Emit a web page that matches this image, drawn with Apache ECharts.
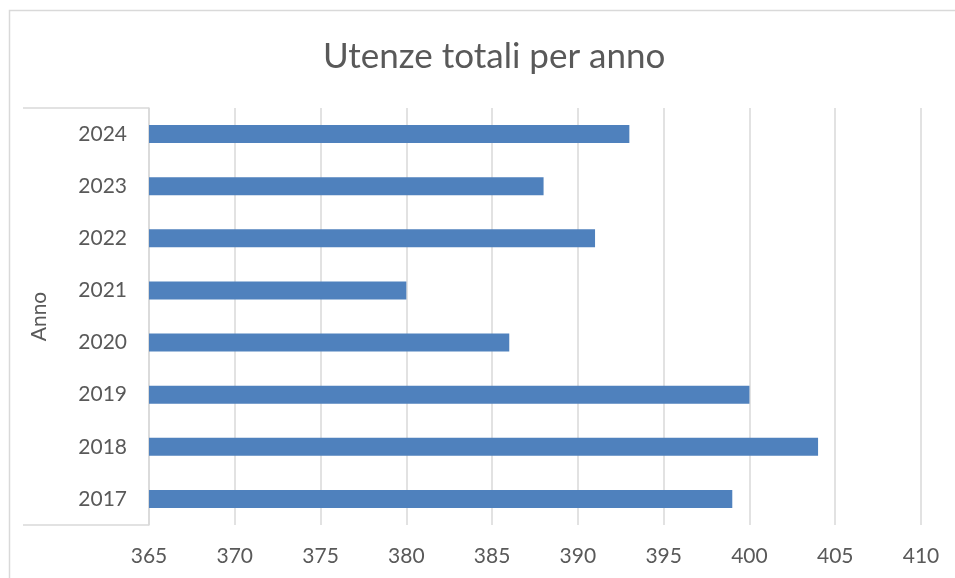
<!DOCTYPE html>
<html>
<head>
<meta charset="utf-8">
<script src="https://cdn.jsdelivr.net/npm/echarts@6/dist/echarts.min.js"></script>
<style>
html, body { margin: 0; padding: 0; background: #fff; }
#chart { width: 955px; height: 578px; }
</style>
</head>
<body>
<div id="chart"></div>
<script>
var anni = ['2017', '2018', '2019', '2020', '2021', '2022', '2023', '2024'];
var utenze = [399, 404, 400, 386, 380, 391, 388, 393];
var assex = { min: 365, max: 410, passo: 5 };

var grigio = '#d9d9d9';
var testo = '#595959';
var font = 'Lato';

var chart = echarts.init(document.getElementById('chart'));

var option = {
    backgroundColor: '#fff',
    animation: false,
    title: {
        text: 'Utenze totali per anno',
        left: 318,
        top: 34,
        textStyle: { color: testo, fontFamily: font, fontSize: 35, fontWeight: 'normal' }
    },
    // cornice del grafico (tagliata a destra e in basso)
    graphic: [{
        type: 'rect',
        shape: { x: 9.5, y: 10.5, width: 1200, height: 1200 },
        style: { fill: null, stroke: grigio, lineWidth: 1.5 },
        silent: true
    }],
    grid: { left: 149, right: 34, top: 108, bottom: 53 },
    xAxis: {
        type: 'value',
        min: assex.min,
        max: assex.max,
        interval: assex.passo,
        axisLine: { show: false },
        axisTick: { show: false },
        axisLabel: { color: testo, fontFamily: font, fontSize: 21, margin: 21 },
        splitLine: { lineStyle: { color: grigio, width: 1.5 } }
    },
    yAxis: {
        type: 'category',
        data: anni,
        name: 'Anno',
        nameLocation: 'middle',
        nameGap: 99,
        nameTextStyle: { color: testo, fontFamily: font, fontSize: 21 },
        axisLine: { lineStyle: { color: grigio, width: 1.5 } },
        axisTick: {
            show: true,
            length: 126,
            interval: function (i) { return i === 0; },
            lineStyle: { color: grigio, width: 1.5 }
        },
        axisLabel: { color: testo, fontFamily: font, fontSize: 21, margin: 22 }
    },
    series: [{
        type: 'bar',
        data: utenze,
        barWidth: 18,
        itemStyle: { color: '#4f81bd' }
    }]
};

chart.setOption(option);
</script>
</body>
</html>
